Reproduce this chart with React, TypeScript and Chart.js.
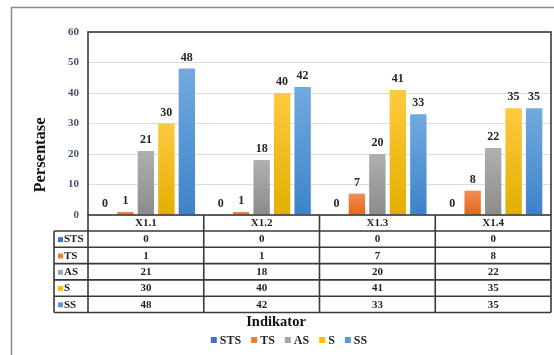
import { useEffect, useRef } from 'react';
import { Chart, registerables } from 'chart.js';

Chart.register(...registerables);

// Category labels (indicators) and the five answer groups
const categories = ['X1.1', 'X1.2', 'X1.3', 'X1.4'];
const seriesNames = ['STS', 'TS', 'AS', 'S', 'SS'];

// Percentage per indicator for each answer group
const stsValues = [0, 0, 0, 0];
const tsValues = [1, 1, 7, 8];
const asValues = [21, 18, 20, 22];
const sValues = [30, 40, 41, 35];
const ssValues = [48, 42, 33, 35];

// Value axis ticks
const yTicks = [0, 10, 20, 30, 40, 50, 60];

const seriesValues = [stsValues, tsValues, asValues, sValues, ssValues];

// key colour, gradient top, gradient bottom
const seriesColors: [string, string, string][] = [
  ['#4472C4', '#5B8BD9', '#3A62B0'],
  ['#ED7D31', '#F38D52', '#E2661C'],
  ['#A5A5A5', '#B0B0B0', '#8B8B8B'],
  ['#FFC000', '#FFC93F', '#E2AF00'],
  ['#5B9BD5', '#72AADF', '#3D83C9'],
];

const FONT = "'Liberation Serif', 'Times New Roman', serif";
const LINE = '#3a3a3a';
const TEXT = '#1f1f1f';

const framePlugin = {
  id: 'frame',
  beforeDraw(chart: any) {
    const { ctx, width, height } = chart;
    ctx.save();
    ctx.fillStyle = '#ffffff';
    ctx.fillRect(0, 0, width, height);
    ctx.strokeStyle = '#8a8a8a';
    ctx.lineWidth = 1.5;
    ctx.beginPath();
    ctx.moveTo(11.5, height + 2);
    ctx.lineTo(11.5, 7.5);
    ctx.lineTo(width + 2, 7.5);
    ctx.stroke();
    ctx.restore();
  },
};

const valueLabelPlugin = {
  id: 'valueLabels',
  afterDatasetsDraw(chart: any) {
    const { ctx } = chart;
    ctx.save();
    ctx.font = `bold 12px ${FONT}`;
    ctx.fillStyle = '#262626';
    ctx.textAlign = 'center';
    ctx.textBaseline = 'middle';
    chart.data.datasets.forEach((ds: any, di: number) => {
      const meta = chart.getDatasetMeta(di);
      meta.data.forEach((el: any, i: number) => {
        ctx.fillText(String(ds.data[i]), el.x, el.y - 11);
      });
    });
    ctx.restore();
  },
};

const tablePlugin = {
  id: 'dataTable',
  afterDraw(chart: any) {
    const { ctx, chartArea, scales } = chart;
    const xs = scales.x;
    const { left, right, top, bottom } = chartArea;
    const colW = (right - left) / categories.length;
    const headerH = 16;
    const rowH = 16.3;
    const keyLeft = 54;
    const tableBottom = bottom + headerH + rowH * seriesNames.length;

    ctx.save();
    // plot frame
    ctx.strokeStyle = LINE;
    ctx.lineWidth = 1.6;
    ctx.strokeRect(left, top, right - left, bottom - top);

    // table grid
    ctx.beginPath();
    ctx.moveTo(left, bottom);
    ctx.lineTo(left, tableBottom);
    ctx.moveTo(right, bottom);
    ctx.lineTo(right, tableBottom);
    for (let i = 1; i < categories.length; i++) {
      const bx = xs.getPixelForValue(i) - colW / 2;
      ctx.moveTo(bx, bottom);
      ctx.lineTo(bx, tableBottom);
    }
    ctx.moveTo(keyLeft, bottom + headerH);
    ctx.lineTo(keyLeft, tableBottom);
    for (let r = 0; r <= seriesNames.length; r++) {
      const y = bottom + headerH + r * rowH;
      ctx.moveTo(keyLeft, y);
      ctx.lineTo(right, y);
    }
    ctx.stroke();

    // header labels
    ctx.fillStyle = TEXT;
    ctx.font = `bold 11px ${FONT}`;
    ctx.textAlign = 'center';
    ctx.textBaseline = 'middle';
    categories.forEach((c, i) => {
      ctx.fillText(c, xs.getPixelForValue(i), bottom + headerH / 2 + 0.5);
    });

    // rows
    seriesNames.forEach((name, r) => {
      const cy = bottom + headerH + r * rowH + rowH / 2 + 0.5;
      ctx.fillStyle = seriesColors[r][0];
      ctx.fillRect(keyLeft + 4, cy - 2.5, 5, 5);
      ctx.fillStyle = TEXT;
      ctx.textAlign = 'left';
      ctx.fillText(name, keyLeft + 10, cy);
      ctx.textAlign = 'center';
      seriesValues[r].forEach((v, i) => {
        ctx.fillText(String(v), xs.getPixelForValue(i), cy);
      });
    });

    // axis titles
    ctx.fillStyle = '#111111';
    ctx.font = `bold 14.5px ${FONT}`;
    ctx.fillText('Indikator', 276, 322);
    ctx.save();
    ctx.translate(41, 155);
    ctx.rotate(-Math.PI / 2);
    ctx.font = `bold 16.5px ${FONT}`;
    ctx.fillText('Persentase', 0, 0);
    ctx.restore();

    // legend
    ctx.font = `bold 12px ${FONT}`;
    ctx.textAlign = 'left';
    const widths = seriesNames.map((n) => ctx.measureText(n).width);
    const itemW = widths.map((w) => 6 + 3 + w);
    const gap = 10;
    const total = itemW.reduce((a, b) => a + b, 0) + gap * (seriesNames.length - 1);
    let lx = 289 - total / 2;
    const ly = 340;
    seriesNames.forEach((n, i) => {
      ctx.fillStyle = seriesColors[i][0];
      ctx.fillRect(lx, ly - 3, 6, 6);
      ctx.fillStyle = TEXT;
      ctx.fillText(n, lx + 9, ly + 0.5);
      lx += itemW[i] + gap;
    });
    ctx.restore();
  },
};

export default function App() {
  const canvasRef = useRef<HTMLCanvasElement | null>(null);

  useEffect(() => {
    if (!canvasRef.current) return;
    const datasets = seriesNames.map((name, si) => {
      const [key, topC, botC] = seriesColors[si];
      return {
        label: name,
        data: seriesValues[si],
        backgroundColor: (c: any) => {
          const chart = c.chart;
          if (!chart.chartArea || c.type !== 'data') return key;
          const ys = chart.scales.y;
          const v = c.parsed ? c.parsed.y : c.raw;
          const t = ys.getPixelForValue(v);
          const b = ys.getPixelForValue(0);
          if (!(b - t > 0.5)) return botC;
          const g = chart.ctx.createLinearGradient(0, t, 0, b);
          g.addColorStop(0, topC);
          g.addColorStop(1, botC);
          return g;
        },
        borderWidth: 0,
        categoryPercentage: 0.885,
        barPercentage: 0.8,
      };
    });

    const chart = new Chart(canvasRef.current, {
      type: 'bar',
      data: { labels: categories, datasets },
      options: {
        animation: false,
        responsive: false,
        devicePixelRatio: 1,
        font: { family: FONT },
        layout: { padding: { top: 32, right: 3, bottom: 140, left: 0 } },
        plugins: {
          legend: { display: false },
          tooltip: { enabled: false },
        },
        scales: {
          x: {
            display: false,
            grid: { display: false },
          },
          y: {
            min: yTicks[0],
            max: yTicks[yTicks.length - 1],
            ticks: {
              stepSize: yTicks[1] - yTicks[0],
              padding: 9,
              color: '#44546A',
              font: { family: FONT, size: 11, weight: 'bold' },
            },
            grid: { color: '#DDDDDD', drawTicks: false, lineWidth: 1 },
            border: { display: false },
            afterFit: (s: any) => {
              s.width = 88;
            },
          },
        },
      } as any,
      plugins: [framePlugin, valueLabelPlugin, tablePlugin],
    });
    return () => chart.destroy();
  }, []);

  return (
    <div style={{ position: 'absolute', left: 0, top: 0, width: 554, height: 355 }}>
      <canvas ref={canvasRef} width={554} height={355} style={{ display: 'block' }} />
    </div>
  );
}
